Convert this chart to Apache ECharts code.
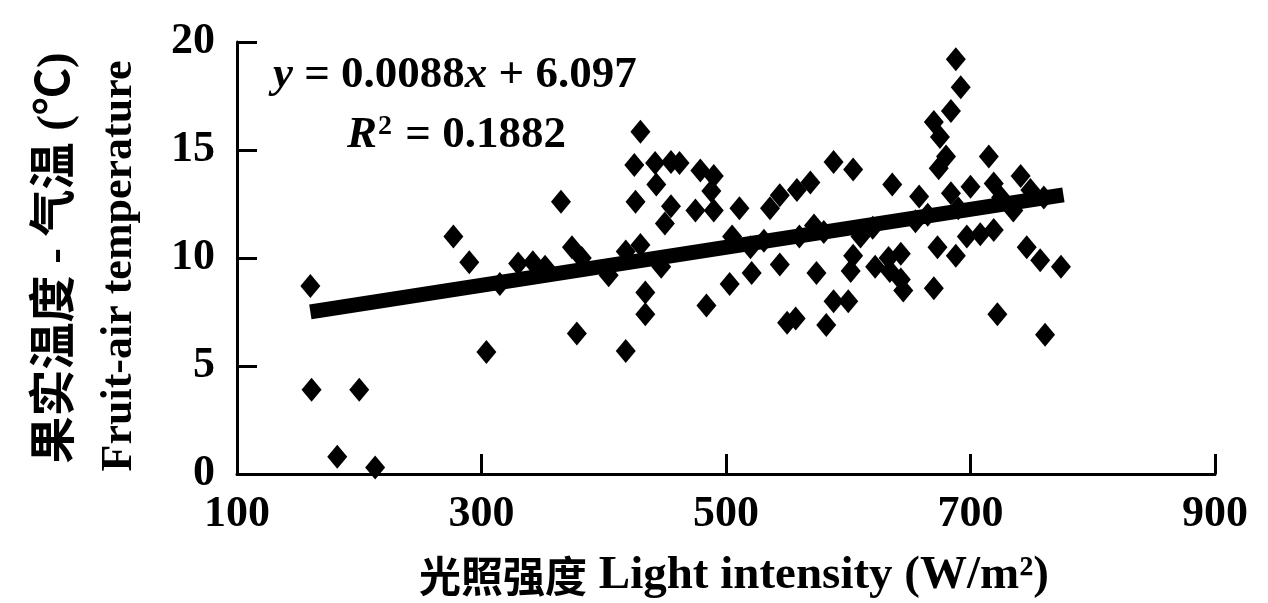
<!DOCTYPE html>
<html>
<head>
<meta charset="utf-8">
<script src="https://cdn.jsdelivr.net/npm/echarts@6/dist/echarts.min.js"></script>
<style>
  html, body { margin: 0; padding: 0; background: #fff; }
  #chart { width: 1268px; height: 603px; }
</style>
</head>
<body>
<div id="chart"></div>
<script>
// 光照强度 (W/m2) 与 果实-气温差 (℃) 的观测点
const lightIntensity = [
  160, 161, 182, 200, 213,
  277, 290, 304, 315, 330, 342, 352,
  365, 374, 378, 382, 404, 418, 418,
  430, 425, 442, 455, 443, 426, 455, 450, 430, 434, 434, 447,
  462, 479, 490, 488, 475, 490, 511, 484, 503, 521, 505, 544,
  536, 544, 558, 569, 588, 604, 531, 572, 550, 557, 582, 588, 600, 574, 602, 604, 622, 633, 634, 643, 643, 645, 670,
  636, 658, 688, 692, 684, 670, 675, 680, 674, 715, 684, 700, 719, 741, 749, 735, 708, 697, 719, 673, 688, 746, 757, 774, 722, 761,
  560, 580, 610, 620, 655, 665, 690, 725, 760, 520
]
const tempDiff = [
  8.7, 3.9, 0.8, 3.9, 0.3,
  11.0, 9.8, 5.65, 8.8, 9.75, 9.8, 9.6,
  12.6, 10.5, 6.5, 10.0, 9.2, 5.7, 10.3,
  15.85, 14.3, 14.4, 14.45, 13.4, 12.6, 12.4, 11.6, 10.6, 8.4, 7.4, 9.6,
  14.4, 14.05, 13.8, 13.1, 12.2, 12.2, 12.3, 7.8, 8.8, 9.3, 11.0, 9.7,
  12.3, 12.9, 13.15, 13.5, 14.45, 14.1, 10.8, 11.5, 7.0, 7.2, 6.9, 8.0, 8.0, 9.3, 9.4, 10.1, 9.6, 10.0, 9.4, 9.0, 10.2, 8.5, 8.6,
  13.4, 12.85, 19.2, 17.9, 16.8, 16.3, 15.6, 14.7, 14.15, 14.7, 13.0, 13.3, 13.45, 13.8, 13.15, 12.2, 11.1, 11.0, 11.3, 10.5, 10.1, 10.5, 9.9, 9.6, 7.4, 6.45,
  11.0, 11.2, 11.0, 11.4, 11.7, 12.0, 12.3, 12.8, 12.8, 10.5
]

// 回归线 y = 0.0088x + 6.097
const slope = 0.0088
const intercept = 6.097
const fitRangeX = [160, 776]

const xTicks = { min: 100, max: 900, interval: 200 }
const yTicks = { min: 0, max: 20, interval: 5 }

const serif = '"Liberation Serif", "DejaVu Serif", serif'
const cjk = '"Liberation Serif", "Noto Sans CJK SC", serif'

const chart = echarts.init(document.getElementById('chart'))

const points = lightIntensity.map((x, i) => [x, tempDiff[i]])
const fitLine = fitRangeX.map(x => [x, slope * x + intercept])

const axisCommon = {
  axisLine: { lineStyle: { color: '#000', width: 3 } },
  axisTick: { inside: true, length: 20, lineStyle: { color: '#000', width: 3 } },
  axisLabel: { color: '#000', fontFamily: serif, fontWeight: 'bold', fontSize: 44 },
  splitLine: { show: false }
}

const eqRich = {
  i: { fontStyle: 'italic', fontWeight: 'bold', fontFamily: serif, fontSize: 45, fill: '#000' },
  n: { fontWeight: 'bold', fontFamily: serif, fontSize: 45, fill: '#000' },
  sup: { fontWeight: 'bold', fontFamily: serif, fontSize: 28, fill: '#000', verticalAlign: 'top', padding: [0, 2, 14, 1] }
}

const option = {
  animation: false,
  backgroundColor: '#fff',
  grid: { left: 237, right: 53, top: 42, bottom: 129 },
  xAxis: Object.assign({
    type: 'value',
    min: xTicks.min,
    max: xTicks.max,
    interval: xTicks.interval
  }, axisCommon, {
    axisLabel: Object.assign({}, axisCommon.axisLabel, { margin: 19 })
  }),
  yAxis: Object.assign({
    type: 'value',
    min: yTicks.min,
    max: yTicks.max,
    interval: yTicks.interval
  }, axisCommon, {
    axisLabel: Object.assign({}, axisCommon.axisLabel, { margin: 22 })
  }),
  series: [
    {
      type: 'scatter',
      data: points,
      symbol: 'diamond',
      symbolSize: [20, 24],
      itemStyle: { color: '#000', opacity: 1 }
    },
    {
      type: 'line',
      data: fitLine,
      symbol: 'none',
      lineStyle: { color: '#000', width: 15, cap: 'butt' },
      z: 3
    }
  ],
  graphic: [
    {
      type: 'text',
      x: 273,
      y: 75,
      style: {
        text: '{i|y}{n|\u00a0=\u00a00.0088}{i|x}{n|\u00a0+\u00a06.097}',
        rich: eqRich,
        verticalAlign: 'middle'
      }
    },
    {
      type: 'text',
      x: 347,
      y: 135,
      style: {
        text: '{i|R}{sup|2}{n|\u00a0=\u00a00.1882}',
        rich: eqRich,
        verticalAlign: 'middle'
      }
    },
    {
      type: 'text',
      x: 57,
      y: 258,
      rotation: Math.PI / 2,
      style: {
        text: '果实温度 - 气温 (℃)',
        font: 'bold 47px ' + cjk,
        fill: '#000',
        align: 'center',
        verticalAlign: 'middle'
      }
    },
    {
      type: 'text',
      x: 120,
      y: 266,
      rotation: Math.PI / 2,
      style: {
        text: 'Fruit-air temperature',
        font: 'bold 44px ' + serif,
        fill: '#000',
        align: 'center',
        verticalAlign: 'middle'
      }
    },
    {
      type: 'text',
      x: 734,
      y: 576,
      style: {
        text: '{cn|光照强度}{en|\u00a0Light intensity (W/m²)}',
        rich: {
          cn: { fontFamily: '"Noto Sans CJK SC"', fontWeight: 'bold', fontSize: 42, fill: '#000' },
          en: { fontFamily: serif, fontWeight: 'bold', fontSize: 47, fill: '#000' }
        },
        align: 'center',
        verticalAlign: 'middle'
      }
    }
  ]
}

chart.setOption(option)

window.addEventListener('resize', () => {
  chart.resize()
})
</script>
</body>
</html>
